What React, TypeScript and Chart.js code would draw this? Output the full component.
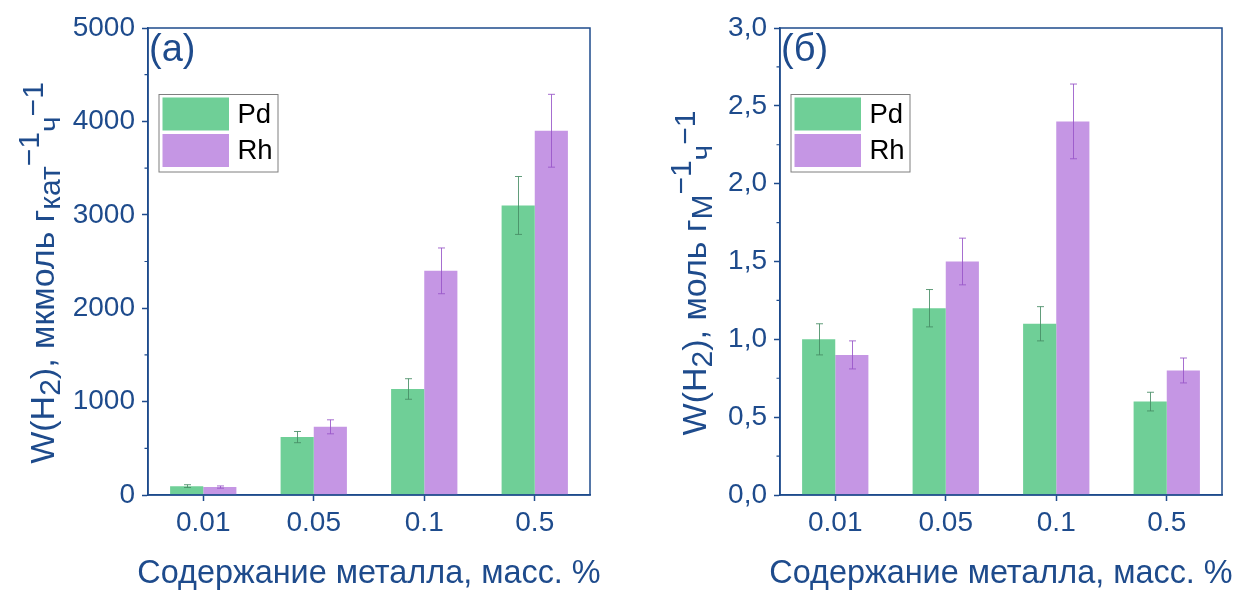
import React, { useEffect, useRef } from "react";
import { Chart, registerables } from "chart.js";

Chart.register(...registerables);

// ---- data ----
const categories = ["0.01", "0.05", "0.1", "0.5"];
const seriesNames = ["Pd", "Rh"];

// (a) W(H2), мкмоль г_кат^-1 ч^-1
const pdPerCat = [95, 620, 1135, 3100];
const rhPerCat = [85, 730, 2400, 3900];
const pdPerCatErr = [15, 60, 110, 310];
const rhPerCatErr = [12, 75, 245, 390];
const leftTicks = [0, 1000, 2000, 3000, 4000, 5000];
const leftMinorTicks = [500, 1500, 2500, 3500, 4500];

// (б) W(H2), моль г_M^-1 ч^-1
const pdPerMetal = [1.0, 1.2, 1.1, 0.6];
const rhPerMetal = [0.9, 1.5, 2.4, 0.8];
const pdPerMetalErr = [0.1, 0.12, 0.11, 0.06];
const rhPerMetalErr = [0.09, 0.15, 0.24, 0.08];
const rightTicks = [0, 0.5, 1.0, 1.5, 2.0, 2.5, 3.0];
const rightMinorTicks = [0.25, 0.75, 1.25, 1.75, 2.25, 2.75];

const xTitle = "Содержание металла, масс. %";

// ---- styles ----
const BLUE = "#1e4b8c";
const GREEN = "#6fcf97";
const PURPLE = "#c596e4";
const GREEN_ERR = "rgba(70,140,100,0.85)";
const PURPLE_ERR = "rgba(150,85,200,0.85)";
const FONT = "Arial, 'Liberation Sans', sans-serif";

type Seg = { t: string; size: number; shift: number };

type PanelProps = {
  left: number;
  width: number;
  areaLeft: number;
  areaRight: number;
  pd: number[];
  rh: number[];
  pdErr: number[];
  rhErr: number[];
  ticks: number[];
  minor: number[];
  fmt: (v: number) => string;
  label: string;
  yTitle: Seg[];
  yTitleX: number;
};

function Panel(p: PanelProps) {
  const ref = useRef<HTMLCanvasElement | null>(null);
  useEffect(() => {
    const canvas = ref.current;
    if (!canvas) return;
    const H = 590;
    const areaTop = 28;
    const areaBottom = 495;
    const errs = [p.pdErr, p.rhErr];
    const errColors = [GREEN_ERR, PURPLE_ERR];

    const decor = {
      id: "decor",
      afterDatasetsDraw(chart: any) {
        const ctx = chart.ctx;
        const ys = chart.scales.y;
        ctx.save();
        ctx.lineWidth = 1;
        chart.data.datasets.forEach((ds: any, i: number) => {
          const meta = chart.getDatasetMeta(i);
          ctx.strokeStyle = errColors[i];
          meta.data.forEach((bar: any, j: number) => {
            const v = ds.data[j];
            const e = errs[i][j];
            const x = Math.round(bar.x) + 0.5;
            const yt = ys.getPixelForValue(v + e);
            const yb = ys.getPixelForValue(v - e);
            ctx.beginPath();
            ctx.moveTo(x, yt);
            ctx.lineTo(x, yb);
            ctx.moveTo(x - 3.5, yt);
            ctx.lineTo(x + 3.5, yt);
            ctx.moveTo(x - 3.5, yb);
            ctx.lineTo(x + 3.5, yb);
            ctx.stroke();
          });
        });
        ctx.restore();
      },
      afterDraw(chart: any) {
        const ctx = chart.ctx;
        const a = chart.chartArea;
        const ys = chart.scales.y;
        ctx.save();
        // frame
        ctx.strokeStyle = BLUE;
        ctx.lineWidth = 1.5;
        ctx.strokeRect(a.left, a.top, a.right - a.left, a.bottom - a.top);
        // minor ticks
        ctx.lineWidth = 1.2;
        ctx.beginPath();
        p.minor.forEach((v) => {
          const y = ys.getPixelForValue(v);
          ctx.moveTo(a.left - 3.5, y);
          ctx.lineTo(a.left, y);
        });
        ctx.stroke();
        // panel label
        ctx.fillStyle = BLUE;
        ctx.font = `38px ${FONT}`;
        ctx.textBaseline = "alphabetic";
        ctx.textAlign = "left";
        ctx.fillText(p.label, a.left + 1, a.top + 33);
        // x title
        ctx.font = `32.4px ${FONT}`;
        ctx.textAlign = "center";
        ctx.fillText(xTitle, (a.left + a.right) / 2, 583);
        ctx.textAlign = "left";
        // legend
        const bx = a.left + 10.5;
        const by = a.top + 66;
        const bw = 119;
        const bh = 77.5;
        ctx.fillStyle = "#ffffff";
        ctx.fillRect(bx, by, bw, bh);
        ctx.strokeStyle = "#7f7f7f";
        ctx.lineWidth = 1;
        ctx.strokeRect(bx + 0.5, by + 0.5, bw, bh);
        chart.data.datasets.forEach((ds: any, i: number) => {
          const sy = by + 3.5 + i * 36.5;
          ctx.fillStyle = ds.backgroundColor;
          ctx.fillRect(bx + 4, sy, 66.5, 33);
          ctx.fillStyle = "#000000";
          ctx.font = `27.5px ${FONT}`;
          ctx.textBaseline = "middle";
          ctx.fillText(ds.label, bx + 79, sy + 17.5);
        });
        // y title with sub/superscripts
        ctx.fillStyle = BLUE;
        ctx.textBaseline = "alphabetic";
        ctx.translate(p.yTitleX, 273);
        ctx.rotate(-Math.PI / 2);
        let total = 0;
        p.yTitle.forEach((s) => {
          ctx.font = `${s.size}px ${FONT}`;
          total += ctx.measureText(s.t).width;
        });
        let x = -total / 2;
        p.yTitle.forEach((s) => {
          ctx.font = `${s.size}px ${FONT}`;
          ctx.fillText(s.t, x, s.shift);
          x += ctx.measureText(s.t).width;
        });
        ctx.restore();
      },
    };

    const chart = new Chart(canvas, {
      type: "bar",
      data: {
        labels: categories,
        datasets: [
          { label: seriesNames[0], data: p.pd, backgroundColor: GREEN, barPercentage: 1, categoryPercentage: 0.6 },
          { label: seriesNames[1], data: p.rh, backgroundColor: PURPLE, barPercentage: 1, categoryPercentage: 0.6 },
        ],
      },
      options: {
        animation: false,
        responsive: false,
        maintainAspectRatio: false,
        devicePixelRatio: 1,
        layout: { padding: { left: 0, right: p.width - p.areaRight, top: areaTop, bottom: 0 } },
        plugins: { legend: { display: false }, tooltip: { enabled: false }, title: { display: false } },
        scales: {
          x: {
            type: "category",
            offset: true,
            grid: { offset: false, drawOnChartArea: false, drawTicks: true, tickLength: 6, color: BLUE, tickWidth: 1.5 },
            border: { display: true, color: BLUE, width: 1.5 },
            ticks: { color: BLUE, font: { family: FONT, size: 28 }, padding: 5, maxRotation: 0, autoSkip: false },
            title: { display: false },
            afterFit: (s: any) => {
              s.height = H - areaBottom;
              s.paddingLeft = 0;
              s.paddingRight = 0;
            },
          } as any,
          y: {
            type: "linear",
            min: p.ticks[0],
            max: p.ticks[p.ticks.length - 1],
            afterBuildTicks: (s: any) => {
              s.ticks = p.ticks.map((v) => ({ value: v }));
            },
            grid: { drawOnChartArea: false, drawTicks: true, tickLength: 6, color: BLUE, tickWidth: 1.5 },
            border: { display: true, color: BLUE, width: 1.5 },
            ticks: { color: BLUE, font: { family: FONT, size: 28 }, padding: 7, callback: (v: any) => p.fmt(Number(v)) },
            afterFit: (s: any) => {
              s.width = p.areaLeft;
              s.paddingTop = 0;
              s.paddingBottom = 0;
            },
          } as any,
        },
      },
      plugins: [decor],
    } as any);
    return () => chart.destroy();
  }, []);
  return (
    <canvas
      ref={ref}
      width={p.width}
      height={590}
      style={{ position: "absolute", left: p.left, top: 0, width: p.width, height: 590 }}
    />
  );
}

const MAIN = 34;
const SUB = 30;
const leftTitle: Seg[] = [
  { t: "W(H", size: MAIN, shift: 0 },
  { t: "2", size: SUB, shift: 6 },
  { t: "), мкмоль г", size: MAIN, shift: 0 },
  { t: "кат", size: SUB, shift: 6 },
  { t: "−1", size: SUB, shift: -15 },
  { t: "ч", size: SUB, shift: 6 },
  { t: "−1", size: SUB, shift: -11 },
];
const rightTitle: Seg[] = [
  { t: "W(H", size: MAIN, shift: 0 },
  { t: "2", size: SUB, shift: 6 },
  { t: "), моль г", size: MAIN, shift: 0 },
  { t: "М", size: SUB, shift: 6 },
  { t: "−1", size: SUB, shift: -15 },
  { t: "ч", size: SUB, shift: 6 },
  { t: "−1", size: SUB, shift: -11 },
];

export default function App() {
  return (
    <div style={{ position: "fixed", left: 0, top: 0, width: 1237, height: 590, background: "#fff", overflow: "hidden" }}>
      <Panel
        left={0}
        width={618}
        areaLeft={148}
        areaRight={590}
        pd={pdPerCat}
        rh={rhPerCat}
        pdErr={pdPerCatErr}
        rhErr={rhPerCatErr}
        ticks={leftTicks}
        minor={leftMinorTicks}
        fmt={(v) => String(v)}
        label="(a)"
        yTitle={leftTitle}
        yTitleX={54}
      />
      <Panel
        left={618}
        width={619}
        areaLeft={162}
        areaRight={604}
        pd={pdPerMetal}
        rh={rhPerMetal}
        pdErr={pdPerMetalErr}
        rhErr={rhPerMetalErr}
        ticks={rightTicks}
        minor={rightMinorTicks}
        fmt={(v) => v.toFixed(1).replace(".", ",")}
        label="(б)"
        yTitle={rightTitle}
        yTitleX={706 - 618}
      />
    </div>
  );
}
